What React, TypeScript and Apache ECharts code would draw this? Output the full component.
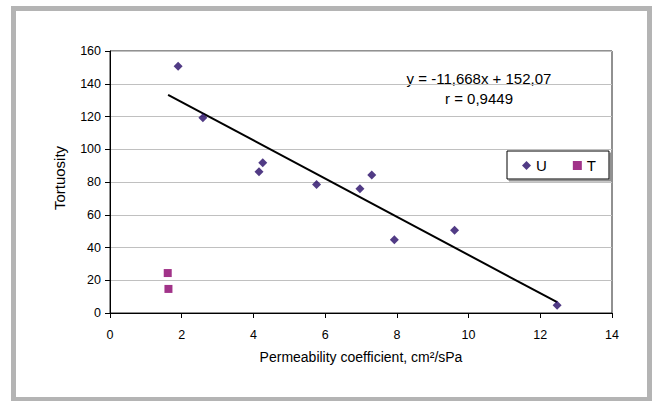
import React, { useEffect, useRef } from "react";
import * as echarts from "echarts";

// Series U (diamonds): [permeability coefficient, tortuosity]
const seriesU: [number, number][] = [
  [1.9, 150.7],
  [2.59, 119.3],
  [4.155, 86.3],
  [4.26, 91.8],
  [5.76, 78.4],
  [6.97, 75.9],
  [7.3, 84.3],
  [7.93, 44.8],
  [9.61, 50.5],
  [12.47, 4.7],
];

// Series T (squares)
const seriesT: [number, number][] = [
  [1.61, 24.4],
  [1.63, 14.7],
];

// Linear trend line end points (y = -11,668x + 152,07)
const trendLine: [number, number][] = [
  [1.62, 133.2],
  [12.47, 6.6],
];

const equationText = "y = -11,668x + 152,07";
const rText = "r = 0,9449";
const xTitle = "Permeability coefficient, cm²/sPa";
const yTitle = "Tortuosity";

const xTicks = { min: 0, max: 14, interval: 2 };
const yTicks = { min: 0, max: 160, interval: 20 };

const FONT = "Liberation Sans, Arial, sans-serif";

export default function App() {
  const ref = useRef<HTMLDivElement>(null);

  useEffect(() => {
    document.body.style.margin = "0";
    if (!ref.current) return;
    const chart = echarts.init(ref.current, undefined, { renderer: "svg" });
    chart.setOption({
      animation: false,
      backgroundColor: "#ffffff",
      textStyle: { fontFamily: FONT },
      grid: {
        left: 110,
        top: 51,
        right: 40,
        bottom: 88,
        show: true,
        borderColor: "#222",
        borderWidth: 1,
        backgroundColor: "transparent",
      },
      xAxis: {
        type: "value",
        min: xTicks.min,
        max: xTicks.max,
        interval: xTicks.interval,
        name: xTitle,
        nameLocation: "middle",
        nameGap: 37,
        nameTextStyle: { fontSize: 14, color: "#000", fontFamily: FONT },
        axisLine: { show: true, lineStyle: { color: "#000", width: 1 } },
        axisTick: { show: true, length: 5, inside: false, lineStyle: { color: "#000" } },
        axisLabel: { fontSize: 12.5, color: "#000", margin: 15, fontFamily: FONT },
        splitLine: { show: false },
      },
      yAxis: {
        type: "value",
        min: yTicks.min,
        max: yTicks.max,
        interval: yTicks.interval,
        axisLine: { show: true, lineStyle: { color: "#000", width: 1 } },
        axisTick: { show: true, length: 5, inside: false, lineStyle: { color: "#000" } },
        axisLabel: { fontSize: 12.5, color: "#000", margin: 9, fontFamily: FONT },
        splitLine: { show: true, lineStyle: { color: "#c0c0c0", width: 1 } },
      },
      legend: {
        left: 507,
        top: 151,
        orient: "horizontal",
        data: [
          { name: "U", icon: "diamond" },
          { name: "T", icon: "rect" },
        ],
        itemWidth: 9,
        itemHeight: 9,
        itemGap: 26,
        padding: [7, 13, 6, 15],
        borderColor: "#000",
        borderWidth: 1,
        backgroundColor: "#fff",
        shadowColor: "#909090",
        shadowOffsetX: 2,
        shadowOffsetY: 2,
        shadowBlur: 0,
        textStyle: { fontSize: 15, color: "#000", fontFamily: FONT },
      },
      series: [
        {
          name: "U",
          type: "scatter",
          symbol: "diamond",
          symbolSize: 9,
          itemStyle: { color: "#250a66" },
          data: seriesU,
          z: 3,
        },
        {
          name: "T",
          type: "scatter",
          symbol: "rect",
          symbolSize: 8,
          itemStyle: { color: "#8a006c" },
          data: seriesT,
          z: 3,
        },
        {
          name: "Trend",
          type: "line",
          data: trendLine,
          symbol: "none",
          lineStyle: { color: "#000", width: 2 },
          z: 2,
        },
      ],
      graphic: [
        {
          type: "rect",
          shape: { x: 13.5, y: 8.5, width: 636, height: 391 },
          style: { fill: "none", stroke: "#b4b4b4", lineWidth: 5 },
          silent: true,
        },
        {
          type: "text",
          x: 59,
          y: 178,
          rotation: Math.PI / 2,
          style: {
            text: yTitle,
            fontSize: 15,
            fontFamily: FONT,
            fill: "#000",
            textAlign: "center",
            textVerticalAlign: "middle",
          },
        },
        {
          type: "text",
          x: 479,
          y: 78,
          style: {
            text: equationText,
            fontSize: 15,
            fontFamily: FONT,
            fill: "#000",
            textAlign: "center",
            textVerticalAlign: "middle",
          },
        },
        {
          type: "text",
          x: 479,
          y: 98,
          style: {
            text: rText,
            fontSize: 15,
            fontFamily: FONT,
            fill: "#000",
            textAlign: "center",
            textVerticalAlign: "middle",
          },
        },
      ],
    });
    return () => chart.dispose();
  }, []);

  return <div ref={ref} style={{ width: 652, height: 401 }} />;
}
